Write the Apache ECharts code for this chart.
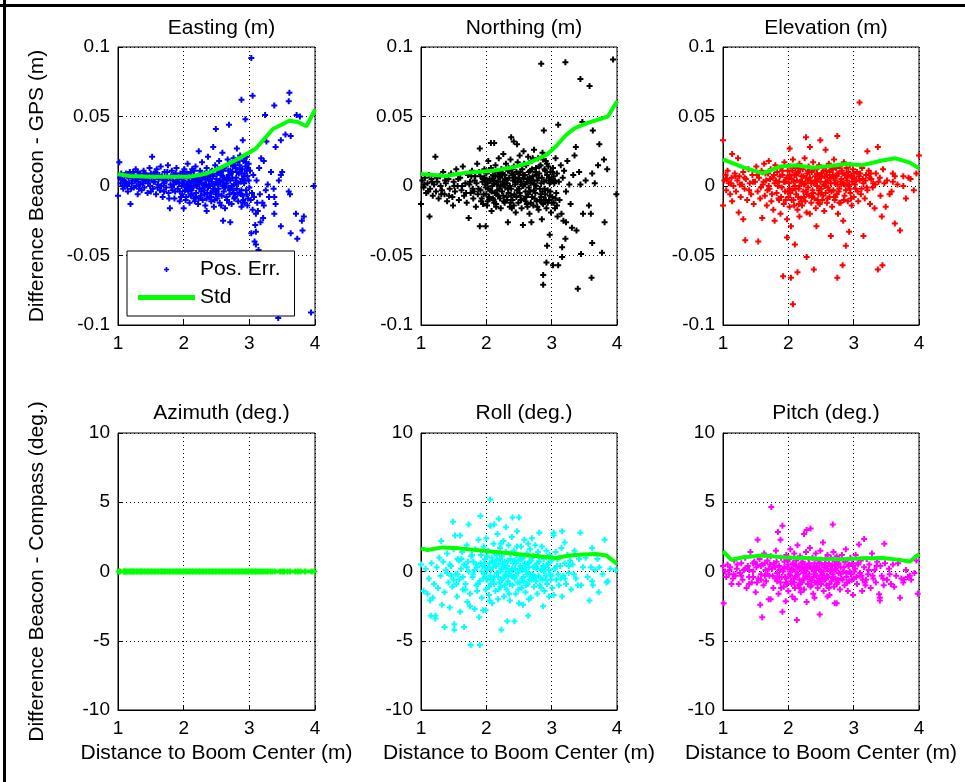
<!DOCTYPE html>
<html>
<head>
<meta charset="utf-8">
<script src="https://cdn.jsdelivr.net/npm/echarts@6/dist/echarts.min.js"></script>
<style>
html,body{margin:0;padding:0;background:#fff;}
#chart{width:965px;height:782px;}
</style>
</head>
<body>
<div id="chart"></div>
<script>
// ---------- tick labels / titles ----------
const panelTitles = ['Easting (m)', 'Northing (m)', 'Elevation (m)', 'Azimuth (deg.)', 'Roll (deg.)', 'Pitch (deg.)'];
const xAxisName = 'Distance to Boom Center (m)';
const yNameTop = 'Difference Beacon - GPS (m)';
const yNameBottom = 'Difference Beacon - Compass (deg.)';

// ---------- Easting ----------
const eastingPts = [
[1.02,0.017],[1.00,-0.007],[1.04,0.002],[1.06,0.005],[1.08,-0.002],[1.10,0.008],[1.11,0.003],[1.13,0.001],[1.15,-0.004],[1.16,0.006],[1.18,0.010],[1.19,-0.013],[1.21,0.002],[1.22,0.004],[1.24,-0.001],[1.25,0.007],[1.27,0.012],[1.28,0.000],[1.30,-0.006],[1.31,0.003],[1.33,0.009],[1.34,0.001],[1.36,-0.003],[1.37,0.005],[1.39,0.011],[1.40,-0.001],[1.42,0.004],[1.43,0.008],[1.45,-0.005],[1.46,0.002],[1.48,0.013],[1.49,0.000],[1.52,0.021],[1.51,0.006],[1.53,-0.002],[1.55,0.009],[1.56,0.003],[1.58,-0.006],[1.59,0.012],[1.61,0.001],[1.62,0.005],[1.64,-0.003],[1.65,0.014],[1.67,0.007],[1.68,-0.008],[1.70,0.002],[1.71,0.010],[1.73,-0.001],[1.74,0.004],[1.76,0.015],[1.77,-0.005],[1.79,-0.016],[1.79,0.006],[1.80,0.001],[1.82,0.011],[1.83,-0.003],[1.85,0.008],[1.86,-0.009],[1.88,0.003],[1.89,0.013],[1.91,-0.002],[1.92,0.005],[1.94,-0.011],[1.95,0.009],[1.97,0.000],[1.98,-0.006],[2.00,0.004],[2.00,-0.016],[2.01,0.012],[2.02,-0.003],[2.03,0.007],[2.04,-0.008],[2.05,0.001],[2.06,0.016],[2.07,-0.004],[2.08,0.006],[2.09,-0.012],[2.10,0.002],[2.11,0.010],[2.12,-0.006],[2.13,0.004],[2.14,-0.001],[2.15,0.008],[2.16,-0.009],[2.17,0.003],[2.18,0.014],[2.19,-0.005],[2.20,0.000],[2.21,0.007],[2.22,-0.013],[2.23,0.025],[2.23,0.005],[2.24,-0.002],[2.25,0.011],[2.26,-0.007],[2.27,0.002],[2.28,0.017],[2.29,-0.010],[2.30,0.006],[2.31,-0.003],[2.32,0.009],[2.33,-0.014],[2.34,0.001],[2.35,-0.018],[2.35,0.013],[2.36,-0.005],[2.37,0.021],[2.38,0.004],[2.39,-0.008],[2.40,0.000],[2.41,0.010],[2.42,-0.011],[2.43,0.003],[2.44,-0.004],[2.45,0.028],[2.45,0.007],[2.46,-0.015],[2.47,0.001],[2.48,0.015],[2.49,0.041],[2.49,-0.006],[2.50,0.005],[2.51,-0.009],[2.52,0.012],[2.53,-0.002],[2.54,0.018],[2.55,-0.012],[2.56,0.003],[2.57,0.008],[2.58,-0.007],[2.59,0.024],[2.59,0.000],[2.60,-0.025],[2.60,0.011],[2.61,-0.004],[2.62,0.006],[2.63,-0.016],[2.64,0.014],[2.65,0.002],[2.66,-0.010],[2.67,0.019],[2.68,-0.001],[2.69,0.044],[2.69,0.008],[2.70,-0.006],[2.71,-0.026],[2.71,0.004],[2.72,0.016],[2.73,-0.013],[2.74,0.010],[2.75,-0.003],[2.76,0.020],[2.77,0.001],[2.78,-0.008],[2.79,0.013],[2.80,0.006],[2.81,0.027],[2.81,-0.002],[2.82,0.017],[2.83,-0.011],[2.84,0.009],[2.85,-0.005],[2.86,0.022],[2.87,0.003],[2.88,0.062],[2.88,-0.015],[2.89,0.012],[2.90,0.033],[2.90,-0.007],[2.91,0.018],[2.92,0.002],[2.93,-0.012],[2.94,0.048],[2.94,0.014],[2.95,-0.003],[2.96,0.021],[2.97,0.007],[2.98,-0.009],[2.99,0.016],[3.00,-0.001],[3.01,0.011],[3.03,0.092],[3.03,-0.034],[3.05,0.065],[3.04,-0.005],[3.06,0.008],[3.08,-0.040],[3.09,-0.028],[3.10,-0.033],[3.10,-0.020],[3.10,-0.042],[3.11,0.004],[3.12,-0.012],[3.14,-0.046],[3.15,0.013],[3.16,-0.006],[3.18,0.020],[3.21,-0.023],[3.22,0.018],[3.22,-0.014],[3.24,0.051],[3.25,-0.003],[3.26,0.032],[3.28,0.001],[3.30,-0.008],[3.33,0.010],[3.37,-0.002],[3.38,0.058],[3.38,-0.008],[3.38,-0.020],[3.40,0.028],[3.40,-0.013],[3.44,-0.095],[3.45,0.004],[3.48,0.033],[3.48,-0.029],[3.48,0.008],[3.50,0.010],[3.55,0.037],[3.60,0.061],[3.60,-0.004],[3.61,0.067],[3.62,-0.006],[3.63,0.036],[3.63,-0.034],[3.71,-0.020],[3.72,0.051],[3.73,-0.038],[3.77,0.050],[3.80,-0.025],[3.81,-0.032],[3.83,-0.022],[3.94,-0.091],[3.98,0.000],
[1.82,-0.001],[1.84,0.004],[1.87,-0.004],[1.90,0.007],[1.93,0.002],[1.96,-0.008],[1.99,0.010],[2.01,0.001],[2.03,-0.010],[2.05,0.009],[2.07,0.003],[2.09,-0.002],[2.11,-0.007],[2.13,0.012],[2.15,0.000],[2.17,-0.011],[2.19,0.006],[2.21,0.001],[2.23,-0.009],[2.25,0.004],[2.27,-0.004],[2.29,0.008],[2.31,0.001],[2.33,0.005],[2.35,-0.009],[2.37,-0.001],[2.39,0.007],[2.41,-0.005],[2.43,0.011],[2.45,-0.002],[2.47,-0.010],[2.49,0.002],[2.51,0.009],[2.53,-0.006],[2.55,0.004],[2.57,-0.014],[2.59,0.007],[2.61,0.013],[2.63,-0.001],[2.65,-0.008],[2.67,0.005],[2.69,-0.012],[2.71,0.011],[2.73,0.000],[2.75,0.014],[2.77,-0.009],[2.79,0.004],[2.81,0.010],[2.83,0.002],[2.85,0.015],[2.87,-0.006],[2.89,0.005],[2.91,-0.010],[2.93,0.009],[2.95,0.017],[2.97,-0.014],[2.99,0.004],[2.96,0.011],[2.92,0.020],[2.88,0.009],[1.72,0.005],[1.66,0.000],[1.60,0.008],[1.54,0.003],[1.50,-0.004],[1.44,0.006],[1.38,0.002],[1.32,-0.002],[1.26,0.004],[1.20,0.007],[1.14,0.000],[1.09,0.004],[1.05,0.009],[3.02,-0.010],[3.05,-0.017],[3.07,-0.008],[3.13,-0.018],[3.17,-0.026],[3.20,-0.012],
[1.03,0.006],[1.07,0.000],[1.12,0.009],[1.17,0.002],[1.23,0.010],[1.29,0.005],[1.35,0.006],[1.41,0.009],[1.47,0.004],[1.57,0.010],[1.63,0.008],[1.69,0.004],[1.75,0.010],[1.81,0.007],[1.88,0.009],[1.91,0.003],[1.97,0.006],[2.02,0.009],[2.08,0.001],[2.14,0.006],[2.20,0.004],[2.26,0.009],[2.32,-0.006],[2.38,0.000],[2.44,0.008],[2.50,-0.004],[2.56,0.010],[2.62,0.001],[2.68,0.011],[2.74,0.006],[2.80,0.002],[2.86,0.012],[2.92,0.007],[2.98,0.013],[2.84,0.019],[2.78,0.015],[2.72,0.009],[1.85,0.001],[1.94,-0.004],[2.04,-0.001],[2.12,-0.003],[2.18,-0.008],[2.24,0.003],[2.30,-0.001],[2.36,0.008],[2.42,-0.008],[2.48,-0.003],[2.54,0.003],[2.60,0.004],[2.66,0.005],[2.76,-0.005],[2.82,-0.006],[2.90,-0.012],[2.96,-0.006],[1.60,-0.001],[1.70,-0.004],[1.50,0.009],[1.40,0.005],[1.30,0.010],[1.20,-0.002],[1.10,0.000],[1.78,-0.009],[1.98,0.002],[2.16,0.011],[2.40,0.005],[2.58,0.012],[2.70,-0.003],[2.88,-0.003],[2.94,0.004],[2.52,0.001]
];
const eastingStd = [[1.00,0.0084],[1.18,0.0072],[1.48,0.0067],[1.79,0.0067],[2.09,0.0067],[2.35,0.009],[2.60,0.014],[2.85,0.020],[3.10,0.027],[3.36,0.041],[3.61,0.047],[3.74,0.046],[3.87,0.043],[4.00,0.055]];

// ---------- Northing ----------
const northingPts = [
[1.00,-0.013],[1.02,0.004],[1.04,-0.001],[1.06,0.006],[1.08,-0.005],[1.10,0.002],[1.12,0.008],[1.13,-0.022],[1.14,-0.002],[1.16,0.005],[1.18,-0.007],[1.20,0.001],[1.22,0.021],[1.23,-0.004],[1.25,0.003],[1.27,-0.009],[1.29,0.007],[1.30,0.000],[1.32,-0.003],[1.34,0.010],[1.36,-0.006],[1.38,0.002],[1.40,-0.011],[1.42,0.005],[1.44,-0.002],[1.46,0.009],[1.48,-0.008],[1.49,-0.014],[1.50,0.003],[1.52,-0.004],[1.54,0.012],[1.56,0.000],[1.58,-0.010],[1.60,0.006],[1.62,-0.003],[1.64,0.014],[1.66,-0.007],[1.68,0.002],[1.70,-0.012],[1.72,0.008],[1.73,-0.023],[1.74,0.001],[1.76,-0.005],[1.78,0.011],[1.80,-0.009],[1.82,0.004],[1.84,-0.015],[1.86,0.016],[1.88,-0.002],[1.90,0.027],[1.90,-0.029],[1.91,0.007],[1.92,-0.011],[1.94,0.003],[1.96,-0.006],[1.97,0.012],[1.99,-0.029],[1.99,-0.001],[2.00,0.009],[2.01,-0.014],[2.02,0.002],[2.03,0.018],[2.04,-0.008],[2.05,0.005],[2.06,-0.003],[2.07,0.031],[2.07,0.013],[2.08,-0.018],[2.09,0.000],[2.10,0.008],[2.11,-0.010],[2.12,0.031],[2.12,0.004],[2.13,-0.005],[2.14,0.015],[2.15,-0.013],[2.16,0.001],[2.17,0.010],[2.18,-0.007],[2.19,0.020],[2.20,-0.002],[2.21,0.006],[2.22,-0.016],[2.23,0.012],[2.24,-0.004],[2.25,0.003],[2.26,0.023],[2.27,-0.011],[2.28,0.008],[2.29,-0.001],[2.30,0.016],[2.31,-0.008],[2.32,0.002],[2.33,-0.026],[2.33,0.011],[2.34,-0.005],[2.35,0.006],[2.36,-0.015],[2.37,0.019],[2.38,0.035],[2.38,-0.002],[2.39,0.009],[2.40,-0.010],[2.41,0.004],[2.42,0.032],[2.42,0.014],[2.43,-0.006],[2.44,0.001],[2.45,-0.019],[2.46,0.010],[2.47,0.030],[2.47,-0.003],[2.48,0.017],[2.49,-0.012],[2.50,0.006],[2.51,0.022],[2.52,-0.007],[2.53,0.003],[2.54,-0.016],[2.55,0.012],[2.56,-0.028],[2.56,0.000],[2.57,0.025],[2.58,-0.009],[2.59,0.008],[2.60,-0.004],[2.61,0.015],[2.62,-0.013],[2.63,0.005],[2.64,0.021],[2.65,-0.001],[2.66,-0.020],[2.67,0.011],[2.68,0.002],[2.69,-0.026],[2.69,0.018],[2.70,-0.008],[2.71,0.007],[2.72,-0.014],[2.73,0.026],[2.74,0.001],[2.75,-0.005],[2.76,0.013],[2.77,-0.011],[2.78,0.004],[2.79,0.020],[2.80,-0.017],[2.81,0.009],[2.82,-0.002],[2.83,0.015],[2.84,0.088],[2.84,-0.008],[2.85,-0.024],[2.85,0.006],[2.86,0.024],[2.87,-0.064],[2.87,-0.071],[2.87,-0.013],[2.88,0.040],[2.88,0.003],[2.89,0.012],[2.90,-0.006],[2.91,0.018],[2.92,-0.055],[2.92,-0.016],[2.93,-0.043],[2.93,0.008],[2.94,-0.003],[2.95,0.014],[2.96,-0.010],[2.97,-0.035],[2.97,0.002],[2.98,0.010],[2.99,-0.019],[3.00,0.005],[3.01,-0.008],[3.02,-0.057],[3.02,0.013],[3.03,-0.012],[3.04,0.002],[3.05,-0.016],[3.06,0.020],[3.07,-0.005],[3.08,0.009],[3.09,-0.022],[3.10,0.044],[3.10,-0.057],[3.11,0.003],[3.12,-0.010],[3.14,0.015],[3.15,-0.020],[3.16,-0.044],[3.16,-0.051],[3.17,0.006],[3.18,-0.025],[3.19,0.011],[3.21,0.089],[3.21,-0.038],[3.22,-0.026],[3.22,-0.004],[3.24,0.018],[3.27,0.001],[3.29,-0.013],[3.31,-0.030],[3.33,0.008],[3.35,0.022],[3.37,0.028],[3.38,-0.032],[3.40,-0.074],[3.42,0.010],[3.44,0.077],[3.44,0.001],[3.45,-0.049],[3.47,0.046],[3.48,-0.020],[3.52,0.004],[3.57,-0.014],[3.58,0.072],[3.60,-0.020],[3.61,-0.066],[3.62,0.009],[3.62,-0.041],[3.63,0.040],[3.66,0.002],[3.71,0.015],[3.73,0.030],[3.77,-0.048],[3.80,0.019],[3.81,-0.026],[3.85,0.012],[3.94,0.091],[3.99,-0.006],
[1.75,0.003],[1.79,-0.002],[1.83,0.007],[1.87,-0.006],[1.89,0.010],[1.93,-0.009],[1.95,0.005],[1.98,0.001],[2.00,-0.006],[2.02,-0.011],[2.04,0.011],[2.06,0.004],[2.08,-0.004],[2.10,-0.009],[2.12,-0.012],[2.14,0.007],[2.16,-0.006],[2.18,0.003],[2.20,0.010],[2.22,0.000],[2.24,0.008],[2.26,-0.007],[2.28,-0.012],[2.30,0.004],[2.32,-0.010],[2.34,0.013],[2.36,0.000],[2.38,-0.007],[2.40,0.012],[2.42,-0.014],[2.44,0.006],[2.46,-0.008],[2.48,0.003],[2.50,-0.002],[2.52,0.010],[2.54,0.001],[2.56,0.008],[2.58,0.016],[2.60,-0.011],[2.62,0.003],[2.64,-0.006],[2.66,0.006],[2.68,-0.012],[2.70,0.012],[2.72,0.004],[2.74,-0.009],[2.76,0.000],[2.78,-0.015],[2.80,0.006],[2.82,-0.010],[2.84,0.002],[2.86,-0.004],[2.88,-0.010],[2.90,0.011],[2.92,0.004],[2.94,-0.012],[2.96,0.006],[2.98,-0.004],[3.00,-0.012],[3.03,0.007],[3.06,-0.009],[3.08,-0.014],
[1.05,0.001],[1.11,-0.004],[1.17,0.003],[1.24,0.006],[1.31,-0.006],[1.37,0.004],[1.43,-0.007],[1.51,0.000],[1.57,0.005],[1.63,0.000],[1.69,-0.005],[1.77,0.007],[1.81,-0.004],[1.85,0.002],[1.91,-0.003],[1.97,0.006],[2.01,0.004],[2.05,-0.009],[2.09,0.005],[2.13,0.010],[2.17,-0.003],[2.21,-0.009],[2.25,0.009],[2.29,0.005],[2.33,-0.002],[2.37,-0.012],[2.41,0.008],[2.45,0.003],[2.49,0.009],[2.53,-0.010],[2.57,0.005],[2.61,-0.008],[2.65,0.010],[2.69,0.004],[2.73,-0.003],[2.77,0.008],[2.81,0.014],[2.85,-0.012],[2.89,-0.002],[2.93,0.016],[2.97,-0.007],[3.01,0.010],[3.05,0.004],[2.03,-0.002],[2.11,0.002],[2.19,0.007],[2.27,0.001],[2.35,0.011],[2.43,0.006],[2.51,-0.005],[2.59,0.001],[2.67,-0.004],[2.75,0.010],[2.83,-0.006],[2.91,-0.010],[2.99,0.003],[1.95,-0.013],[2.15,-0.015],[2.39,-0.016],[2.63,-0.015],[2.87,0.019],[2.71,0.020]
];
const northingStd = [[1.00,0.0086],[1.38,0.0072],[1.69,0.0096],[2.10,0.011],[2.41,0.0134],[2.66,0.0168],[2.92,0.0223],[3.07,0.0288],[3.22,0.0367],[3.35,0.0415],[3.53,0.045],[3.86,0.050],[4.00,0.061]];

// ---------- Elevation ----------
const elevationPts = [
[1.00,0.033],[1.00,-0.014],[1.02,0.004],[1.04,0.008],[1.05,-0.003],[1.07,0.011],[1.09,0.002],[1.11,-0.006],[1.13,0.006],[1.14,0.023],[1.14,-0.011],[1.16,0.000],[1.18,0.009],[1.20,-0.004],[1.22,0.004],[1.23,0.020],[1.24,-0.019],[1.25,0.007],[1.27,-0.008],[1.29,0.001],[1.31,-0.024],[1.31,0.010],[1.33,-0.002],[1.34,-0.039],[1.35,0.005],[1.37,-0.010],[1.39,0.012],[1.41,0.002],[1.43,-0.006],[1.45,0.008],[1.47,-0.013],[1.49,0.003],[1.51,0.014],[1.53,-0.004],[1.54,-0.040],[1.55,0.006],[1.57,-0.009],[1.59,0.011],[1.60,-0.023],[1.61,0.001],[1.63,0.016],[1.64,-0.007],[1.66,0.004],[1.67,-0.014],[1.69,0.009],[1.70,0.018],[1.71,-0.002],[1.73,0.012],[1.74,-0.011],[1.76,0.006],[1.77,-0.017],[1.79,0.002],[1.79,-0.025],[1.80,0.015],[1.82,-0.005],[1.83,0.010],[1.85,-0.009],[1.86,0.003],[1.88,-0.020],[1.88,0.013],[1.90,-0.001],[1.91,0.008],[1.92,-0.065],[1.93,-0.013],[1.94,0.017],[1.95,-0.004],[1.97,0.006],[1.98,-0.037],[1.98,-0.024],[1.99,0.011],[2.00,-0.008],[2.01,0.002],[2.02,0.027],[2.02,-0.015],[2.03,0.014],[2.04,-0.066],[2.04,-0.029],[2.05,0.005],[2.06,-0.003],[2.07,-0.085],[2.07,0.019],[2.08,-0.010],[2.09,0.008],[2.10,-0.042],[2.10,0.000],[2.11,0.013],[2.12,-0.006],[2.13,0.004],[2.14,-0.062],[2.14,-0.017],[2.15,0.010],[2.16,-0.002],[2.17,-0.022],[2.17,0.016],[2.18,0.003],[2.19,-0.009],[2.20,0.007],[2.21,-0.014],[2.22,0.012],[2.23,-0.004],[2.24,0.001],[2.25,0.020],[2.26,-0.011],[2.27,0.035],[2.27,0.006],[2.28,-0.051],[2.28,-0.019],[2.29,0.009],[2.30,-0.001],[2.31,0.014],[2.32,-0.007],[2.33,0.028],[2.33,-0.020],[2.34,0.004],[2.35,-0.012],[2.36,0.010],[2.37,-0.003],[2.38,0.017],[2.39,-0.060],[2.39,0.002],[2.40,-0.009],[2.41,0.007],[2.42,-0.016],[2.43,-0.029],[2.43,0.012],[2.44,0.000],[2.45,0.005],[2.46,-0.006],[2.47,0.015],[2.48,-0.013],[2.49,0.033],[2.49,0.003],[2.50,-0.002],[2.51,0.009],[2.52,-0.010],[2.53,0.013],[2.54,0.001],[2.55,-0.018],[2.56,0.007],[2.57,0.026],[2.57,-0.005],[2.58,0.011],[2.59,-0.012],[2.60,0.004],[2.61,-0.001],[2.62,0.016],[2.63,-0.008],[2.64,0.006],[2.65,-0.036],[2.65,0.002],[2.66,0.012],[2.67,-0.015],[2.68,0.008],[2.69,-0.003],[2.70,0.019],[2.71,-0.010],[2.72,0.004],[2.73,0.013],[2.74,-0.006],[2.75,0.036],[2.75,-0.066],[2.75,0.001],[2.76,-0.020],[2.77,0.009],[2.78,-0.002],[2.79,0.014],[2.80,-0.012],[2.81,0.005],[2.82,0.011],[2.83,-0.057],[2.84,-0.025],[2.84,0.002],[2.85,0.017],[2.86,-0.007],[2.87,0.008],[2.88,-0.043],[2.88,-0.003],[2.89,0.013],[2.90,0.004],[2.91,-0.011],[2.92,0.010],[2.93,-0.033],[2.93,0.001],[2.94,0.015],[2.95,-0.005],[2.96,0.007],[2.97,-0.014],[2.98,0.003],[2.99,0.012],[3.00,-0.008],[3.01,0.006],[3.03,-0.002],[3.05,0.010],[3.07,-0.011],[3.09,0.060],[3.09,0.004],[3.11,-0.006],[3.13,0.013],[3.15,-0.036],[3.15,0.002],[3.17,-0.009],[3.19,0.008],[3.21,0.025],[3.21,-0.003],[3.23,0.011],[3.25,-0.013],[3.27,0.005],[3.29,-0.001],[3.32,-0.016],[3.34,0.009],[3.37,0.028],[3.37,-0.060],[3.38,0.003],[3.41,-0.007],[3.43,-0.022],[3.44,-0.057],[3.45,0.012],[3.49,-0.015],[3.51,0.004],[3.55,-0.006],[3.58,-0.004],[3.60,0.003],[3.60,0.009],[3.63,-0.027],[3.63,0.007],[3.67,0.001],[3.71,-0.032],[3.76,0.000],[3.76,0.007],[3.80,-0.009],[3.84,0.006],[3.87,0.005],[3.92,-0.003],[3.96,0.009],[4.00,0.022],
[1.62,0.003],[1.68,-0.003],[1.72,0.005],[1.78,0.008],[1.84,0.000],[1.87,0.007],[1.89,-0.008],[1.93,0.003],[1.96,-0.010],[2.00,0.006],[2.03,-0.005],[2.06,0.011],[2.09,-0.014],[2.12,0.008],[2.15,-0.008],[2.18,0.013],[2.21,0.003],[2.24,-0.008],[2.27,-0.004],[2.30,0.011],[2.33,0.006],[2.36,-0.008],[2.39,0.012],[2.42,0.004],[2.45,-0.010],[2.48,0.008],[2.51,-0.005],[2.54,0.011],[2.57,0.002],[2.60,-0.009],[2.63,0.010],[2.66,-0.004],[2.69,0.006],[2.72,-0.008],[2.75,0.009],[2.78,-0.012],[2.81,0.001],[2.85,-0.010],[2.89,0.006],[2.92,0.000],[2.96,-0.009],[3.00,0.009],[3.04,0.004],[3.08,0.007],[3.12,-0.002],[3.18,0.004],[3.24,0.006],[3.30,0.002],
[1.06,0.005],[1.12,0.002],[1.19,0.007],[1.26,0.001],[1.33,0.006],[1.40,-0.003],[1.46,0.003],[1.52,0.008],[1.58,-0.001],[1.65,0.009],[1.70,0.000],[1.75,-0.006],[1.81,0.004],[1.86,-0.010],[1.91,0.011],[1.95,0.003],[1.99,-0.004],[2.02,0.008],[2.05,-0.010],[2.08,0.003],[2.11,-0.002],[2.14,0.009],[2.17,0.000],[2.20,-0.011],[2.23,0.007],[2.26,0.002],[2.29,-0.006],[2.32,0.010],[2.35,0.002],[2.38,-0.005],[2.41,0.003],[2.44,0.009],[2.47,-0.003],[2.50,0.006],[2.53,-0.007],[2.56,0.000],[2.59,0.008],[2.62,-0.003],[2.65,0.006],[2.68,0.012],[2.71,0.002],[2.74,0.007],[2.77,-0.004],[2.80,0.003],[2.83,0.009],[2.86,0.001],[2.90,0.008],[2.94,-0.002],[2.98,0.006],[3.02,0.001],[3.06,-0.004],[3.10,0.009],[3.14,0.005],[3.20,-0.001],[3.26,0.009],[3.33,0.001],[3.40,0.006],[3.47,0.002],[2.16,-0.013],[2.46,-0.012],[2.70,-0.008],[2.02,-0.002],[2.30,0.004],[2.58,0.003]
];
const elevationStd = [[1.00,0.0192],[1.31,0.0134],[1.61,0.0091],[1.87,0.014],[2.12,0.015],[2.38,0.0132],[2.63,0.0144],[2.89,0.0159],[3.14,0.015],[3.40,0.018],[3.63,0.020],[3.86,0.0168],[4.00,0.0127]];

// ---------- Azimuth ----------
const azimuthPts = [
[1.01,0],[1.03,0],[1.09,0],[1.10,0],[1.12,0],[1.14,0],[1.17,0],[1.19,0],[1.21,0],[1.23,0],[1.25,0],[1.28,0],[1.30,0],[1.33,0],[1.35,0],[1.37,0],[1.40,0],[1.42,0],[1.45,0],[1.47,0],[1.50,0],[1.52,0],[1.55,0],[1.57,0],[1.60,0],[1.62,0],[1.65,0],[1.67,0],[1.70,0],[1.72,0],[1.75,0],[1.78,0],[1.80,0],[1.83,0],[1.85,0],[1.88,0],[1.90,0],[1.93,0],[1.95,0],[1.98,0],[2.00,0],[2.03,0],[2.05,0],[2.08,0],[2.10,0],[2.13,0],[2.15,0],[2.18,0],[2.20,0],[2.23,0],[2.25,0],[2.28,0],[2.30,0],[2.33,0],[2.35,0],[2.38,0],[2.40,0],[2.43,0],[2.45,0],[2.48,0],[2.50,0],[2.53,0],[2.55,0],[2.58,0],[2.60,0],[2.63,0],[2.65,0],[2.68,0],[2.70,0],[2.73,0],[2.75,0],[2.78,0],[2.80,0],[2.83,0],[2.85,0],[2.88,0],[2.90,0],[2.93,0],[2.95,0],[2.98,0],[3.00,0],[3.03,0],[3.05,0],[3.08,0],[3.10,0],[3.13,0],[3.16,0],[3.19,0],[3.22,0],[3.25,0],[3.28,0],[3.32,0],[3.35,0],[3.39,0],[3.47,0],[3.50,0],[3.53,0],[3.58,0],[3.62,0],[3.70,0],[3.74,0],[3.78,0],[3.85,0],[3.95,0],[3.99,0]
];
const azimuthStd = [[1.00,0],[1.50,0],[2.00,0],[2.50,0],[3.00,0],[3.50,0],[4.00,0]];

// ---------- Roll ----------
const rollPts = [
[0.99,-0.8],[1.00,0.5],[1.04,-1.4],[1.07,0.2],[1.10,-1.6],[1.12,-0.5],[1.14,-2.1],[1.15,-3.2],[1.16,0.6],[1.18,-1.9],[1.20,-0.9],[1.22,-3.4],[1.22,-3.2],[1.24,0.3],[1.26,-1.2],[1.28,1.0],[1.30,-0.3],[1.31,2.2],[1.32,-2.4],[1.34,0.7],[1.36,-4.0],[1.36,-1.5],[1.38,0.1],[1.40,1.3],[1.42,-0.8],[1.44,-2.6],[1.46,0.4],[1.48,-1.1],[1.49,3.6],[1.50,1.6],[1.51,-4.2],[1.51,-3.8],[1.52,2.6],[1.53,-0.2],[1.55,-1.8],[1.56,0.9],[1.58,-0.6],[1.60,2.6],[1.60,-2.9],[1.61,0.2],[1.63,1.4],[1.64,-1.3],[1.66,-4.0],[1.66,0.5],[1.68,-0.9],[1.70,1.9],[1.71,-2.2],[1.73,3.4],[1.73,0.0],[1.75,-1.6],[1.76,-5.3],[1.77,1.1],[1.79,-0.4],[1.80,0.7],[1.82,-2.7],[1.83,1.6],[1.85,-1.0],[1.86,0.3],[1.88,2.3],[1.89,-3.3],[1.90,-5.3],[1.90,-0.7],[1.91,4.0],[1.92,1.2],[1.93,-1.9],[1.94,0.4],[1.95,-2.8],[1.96,1.8],[1.97,-0.2],[1.98,0.9],[1.99,-2.8],[1.99,-1.3],[2.00,2.4],[2.01,0.1],[2.02,-0.6],[2.03,1.5],[2.04,-1.7],[2.05,0.6],[2.06,5.2],[2.06,3.3],[2.07,-0.9],[2.08,1.0],[2.09,-2.3],[2.10,0.3],[2.11,2.0],[2.12,3.4],[2.12,-0.4],[2.13,1.3],[2.14,-1.4],[2.15,0.8],[2.16,-0.1],[2.17,2.7],[2.18,-2.0],[2.19,3.8],[2.19,0.5],[2.20,-0.8],[2.21,1.7],[2.22,-1.1],[2.23,-4.2],[2.23,0.2],[2.24,1.1],[2.25,-0.5],[2.26,2.2],[2.27,-1.8],[2.28,0.7],[2.29,-0.2],[2.30,3.2],[2.30,1.4],[2.31,-1.3],[2.32,-3.6],[2.32,0.4],[2.33,-0.7],[2.34,1.9],[2.35,0.0],[2.36,-2.1],[2.37,0.9],[2.38,-0.3],[2.39,2.5],[2.40,3.9],[2.40,-1.0],[2.41,0.6],[2.42,1.5],[2.43,-3.6],[2.43,-0.5],[2.44,0.2],[2.45,-1.6],[2.46,1.2],[2.47,2.9],[2.48,-0.1],[2.49,0.8],[2.50,3.9],[2.50,-2.3],[2.51,-0.8],[2.52,0.4],[2.53,1.8],[2.54,-1.2],[2.55,0.1],[2.56,-2.4],[2.56,1.0],[2.57,-0.4],[2.58,2.3],[2.59,0.6],[2.60,-1.5],[2.61,0.0],[2.62,1.3],[2.63,-0.9],[2.64,-3.2],[2.64,2.0],[2.65,0.3],[2.66,-0.6],[2.67,1.6],[2.68,-1.9],[2.69,0.8],[2.70,2.4],[2.71,-0.2],[2.72,1.1],[2.73,-1.1],[2.74,0.4],[2.75,1.9],[2.76,-0.7],[2.77,0.2],[2.78,-1.6],[2.79,1.4],[2.80,-0.3],[2.81,2.8],[2.81,0.7],[2.82,-1.0],[2.84,0.1],[2.85,1.8],[2.86,-0.6],[2.87,-2.5],[2.88,0.9],[2.89,-1.4],[2.90,0.3],[2.92,1.5],[2.93,-0.9],[2.94,0.5],[2.96,-1.8],[2.97,1.2],[2.98,-0.2],[3.00,0.8],[3.01,-1.2],[3.03,2.8],[3.03,2.6],[3.03,-1.7],[3.04,0.2],[3.06,1.4],[3.07,-0.6],[3.09,0.9],[3.11,-1.0],[3.13,0.4],[3.15,1.7],[3.16,2.9],[3.16,-1.8],[3.18,-0.3],[3.20,2.1],[3.20,0.6],[3.22,-0.9],[3.24,1.2],[3.26,-0.1],[3.28,0.8],[3.30,-1.3],[3.32,0.5],[3.35,1.5],[3.37,-0.5],[3.40,-1.0],[3.42,0.9],[3.44,2.8],[3.45,-1.0],[3.48,0.3],[3.52,1.0],[3.55,-0.4],[3.58,-2.1],[3.60,0.3],[3.62,1.7],[3.62,-0.7],[3.63,-1.0],[3.66,0.1],[3.70,0.9],[3.72,-1.5],[3.73,0.3],[3.78,-0.2],[3.81,2.3],[3.84,-0.8],[3.86,-0.7],[3.90,0.2],[3.98,0.1],
[1.80,-0.2],[1.84,0.5],[1.87,-0.9],[1.93,0.0],[1.96,0.6],[2.00,-0.5],[2.03,0.3],[2.06,-0.3],[2.09,0.7],[2.12,-0.9],[2.15,0.4],[2.18,-0.4],[2.21,0.9],[2.24,-0.6],[2.27,0.3],[2.30,-0.3],[2.33,0.8],[2.36,-0.9],[2.39,0.2],[2.42,-0.4],[2.45,0.6],[2.48,-0.8],[2.51,0.1],[2.54,0.9],[2.57,-0.7],[2.60,0.5],[2.63,-0.2],[2.66,0.7],[2.69,-0.6],[2.72,0.3],[2.75,-0.4],[2.78,0.6],[2.83,-0.5],[2.87,0.4],[2.91,-0.3],[2.95,0.6],[2.99,-0.6],[3.05,0.2],[3.10,-0.2],[3.14,-0.5],[1.70,0.3],[1.64,-0.4],[1.58,0.8],[1.54,-0.9],[1.46,-0.3],[1.40,-0.1],
[1.44,0.5],[1.50,-0.6],[1.56,-0.2],[1.62,0.9],[1.68,-1.3],[1.72,0.7],[1.78,1.2],[1.82,0.1],[1.86,-1.4],[1.91,0.6],[1.95,-0.5],[1.98,0.3],[2.01,1.1],[2.04,-1.1],[2.07,0.1],[2.10,-0.6],[2.13,0.5],[2.16,1.2],[2.19,-1.3],[2.22,0.0],[2.25,0.6],[2.28,-1.0],[2.31,0.2],[2.34,-0.3],[2.37,1.3],[2.40,0.1],[2.43,0.8],[2.46,-0.3],[2.49,-1.3],[2.52,1.1],[2.55,-0.5],[2.58,0.2],[2.61,-1.0],[2.64,0.6],[2.67,-0.2],[2.70,1.0],[2.73,-0.4],[2.76,0.3],[2.80,1.1],[2.84,-1.2],[2.88,0.0],[2.92,-0.6],[2.96,0.1],[3.00,-0.3],[3.08,0.4],[3.12,1.0],[3.20,-0.5],[3.26,0.4],[3.34,-0.2],[2.05,-2.1],[2.35,-1.6],[2.65,-2.0],[1.75,-2.5],[2.47,1.8],[2.22,2.0]
];
const rollStd = [[1.00,1.67],[1.10,1.55],[1.33,1.74],[1.59,1.67],[1.84,1.55],[2.10,1.43],[2.35,1.31],[2.61,1.19],[2.87,1.07],[3.07,0.98],[3.27,1.15],[3.48,1.22],[3.68,1.26],[3.84,1.15],[4.00,0.55]];

// ---------- Pitch ----------
const pitchPts = [
[1.00,0.4],[1.01,-2.3],[1.03,0.0],[1.05,-0.4],[1.07,0.5],[1.09,-0.2],[1.11,0.3],[1.13,-0.9],[1.15,-0.5],[1.17,0.8],[1.19,-0.3],[1.21,0.2],[1.24,-0.9],[1.26,-0.1],[1.28,0.6],[1.30,-0.6],[1.32,0.1],[1.34,1.0],[1.36,-1.2],[1.38,0.4],[1.40,-0.4],[1.42,1.4],[1.44,-0.8],[1.46,0.0],[1.48,0.7],[1.50,-1.5],[1.51,0.3],[1.53,2.3],[1.54,-0.5],[1.56,0.9],[1.57,-2.4],[1.58,-0.2],[1.60,-3.3],[1.60,0.5],[1.62,-1.0],[1.63,1.3],[1.65,0.1],[1.66,-0.7],[1.68,0.8],[1.70,-2.0],[1.71,-0.3],[1.73,-2.0],[1.73,1.1],[1.74,4.65],[1.75,0.2],[1.77,-1.2],[1.78,0.6],[1.80,-0.5],[1.81,1.5],[1.83,-0.1],[1.84,2.85],[1.85,-1.6],[1.86,0.4],[1.88,2.3],[1.88,-0.8],[1.89,1.0],[1.91,3.3],[1.91,-2.9],[1.92,0.0],[1.93,-1.1],[1.94,0.7],[1.95,-0.4],[1.96,-2.15],[1.97,1.2],[1.98,-0.9],[1.99,0.3],[2.00,-1.4],[2.01,0.9],[2.02,-0.2],[2.03,1.6],[2.04,-0.7],[2.05,0.2],[2.06,-1.8],[2.07,0.6],[2.08,-0.5],[2.09,1.3],[2.10,-1.2],[2.11,0.0],[2.12,0.8],[2.13,-3.5],[2.13,-0.3],[2.14,1.9],[2.15,-1.0],[2.16,0.4],[2.17,-0.6],[2.18,1.1],[2.19,-1.5],[2.20,0.1],[2.21,-0.8],[2.22,0.7],[2.23,-0.1],[2.24,2.7],[2.24,-1.3],[2.25,0.5],[2.26,-0.4],[2.27,1.4],[2.28,3.0],[2.28,-2.2],[2.29,0.2],[2.30,-0.9],[2.31,0.9],[2.32,-0.2],[2.33,1.7],[2.34,3.1],[2.34,-1.1],[2.35,0.3],[2.36,-0.6],[2.37,1.0],[2.38,-1.6],[2.39,0.0],[2.40,0.6],[2.41,-0.8],[2.42,1.3],[2.43,-0.3],[2.44,0.4],[2.45,-1.2],[2.46,0.8],[2.47,-0.5],[2.48,-3.1],[2.48,0.1],[2.49,1.5],[2.50,-0.9],[2.51,0.5],[2.52,-0.2],[2.53,2.1],[2.54,-1.4],[2.55,0.3],[2.56,-0.6],[2.57,0.9],[2.58,-1.0],[2.59,0.2],[2.60,1.2],[2.61,-0.4],[2.62,0.6],[2.63,-1.7],[2.64,0.0],[2.65,1.0],[2.66,-0.7],[2.67,0.4],[2.68,3.4],[2.68,-0.2],[2.69,1.4],[2.70,-1.1],[2.71,-2.3],[2.71,0.7],[2.72,-0.5],[2.73,0.2],[2.74,-2.3],[2.74,1.1],[2.75,-0.8],[2.76,0.5],[2.77,-0.1],[2.78,0.9],[2.79,-1.3],[2.80,0.3],[2.82,1.2],[2.83,-0.6],[2.84,0.0],[2.86,-1.0],[2.87,0.7],[2.88,1.6],[2.89,-0.4],[2.91,-1.4],[2.92,0.4],[2.93,-0.7],[2.95,1.0],[2.96,-0.2],[2.98,0.6],[2.99,-1.7],[3.00,-0.5],[3.02,0.2],[3.03,1.2],[3.05,-0.9],[3.07,0.5],[3.08,1.95],[3.09,-0.3],[3.11,0.8],[3.13,-1.4],[3.14,-0.6],[3.16,2.35],[3.16,0.3],[3.18,-1.0],[3.20,0.9],[3.22,-0.2],[3.24,0.5],[3.26,-1.2],[3.28,1.3],[3.30,-0.5],[3.32,0.1],[3.34,-0.8],[3.36,0.7],[3.39,-1.65],[3.40,-2.1],[3.40,-1.9],[3.41,0.4],[3.43,-0.3],[3.46,-1.0],[3.47,2.0],[3.48,0.6],[3.51,-0.6],[3.54,0.2],[3.57,-0.9],[3.60,0.5],[3.62,-1.1],[3.65,-0.3],[3.68,0.6],[3.71,-1.9],[3.73,-0.5],[3.76,-0.8],[3.77,-0.6],[3.80,0.1],[3.83,-0.4],[3.86,-0.3],[3.88,-0.6],[3.93,-0.1],[3.96,0.8],[3.98,-1.6],
[1.80,0.3],[1.83,-0.7],[1.87,0.1],[1.90,-0.4],[1.94,0.3],[1.97,-0.5],[2.00,0.5],[2.03,-0.3],[2.06,0.1],[2.09,-0.8],[2.12,0.4],[2.15,-0.2],[2.18,-0.9],[2.21,0.3],[2.24,-0.5],[2.27,0.0],[2.30,0.4],[2.33,-0.6],[2.36,0.2],[2.39,-0.4],[2.42,0.1],[2.45,-0.7],[2.48,0.6],[2.51,-0.3],[2.54,0.0],[2.57,-0.5],[2.60,0.4],[2.63,-0.9],[2.66,0.1],[2.69,-0.4],[2.72,0.5],[2.76,-0.6],[2.80,-0.2],[2.85,0.3],[2.90,-0.8],[2.94,0.0],[2.99,0.4],[3.04,-0.4],[3.10,-0.1],[3.19,-0.6],[1.70,0.2],[1.64,-0.3],[1.58,0.4],[1.52,-0.8],[1.46,0.6],[1.40,0.1],
[1.10,0.1],[1.16,-0.2],[1.22,0.5],[1.28,-0.3],[1.34,0.2],[1.40,-0.9],[1.46,-0.4],[1.52,0.5],[1.58,-0.6],[1.64,0.6],[1.68,-0.2],[1.72,0.5],[1.76,-0.3],[1.82,0.7],[1.86,-0.4],[1.89,-1.2],[1.93,0.2],[1.96,-0.8],[1.99,0.8],[2.02,0.0],[2.05,-0.9],[2.08,0.5],[2.11,-0.4],[2.14,0.3],[2.17,-1.2],[2.20,0.6],[2.23,-0.6],[2.26,0.2],[2.29,-0.4],[2.32,0.6],[2.35,-1.0],[2.38,0.3],[2.41,-0.2],[2.44,-0.8],[2.47,0.2],[2.50,0.0],[2.53,-0.6],[2.56,0.6],[2.59,-0.3],[2.62,-1.2],[2.65,0.4],[2.68,-0.5],[2.71,0.1],[2.74,-0.9],[2.77,0.6],[2.81,-0.5],[2.85,0.8],[2.89,-0.1],[2.93,0.5],[2.97,-0.6],[3.01,0.0],[3.06,0.6],[3.12,-0.3],[3.17,-0.8],[3.23,0.1],[3.29,-0.3],[3.35,0.4],[3.45,-0.5],[3.55,-0.2],[2.40,-1.9],[2.10,-2.0],[2.60,-1.8]
];
const pitchStd = [[1.00,1.46],[1.13,0.84],[1.31,1.03],[1.61,1.15],[1.92,1.03],[2.22,0.98],[2.53,0.91],[2.84,0.88],[3.14,0.95],[3.45,0.98],[3.70,0.84],[3.86,0.72],[4.00,1.26]];

// ---------- build ----------
const FONT = "'Liberation Sans', Arial, Helvetica, sans-serif";
const plusPath = 'path://M1,0H2V1H3V2H2V3H1V2H0V1H1Z';
const grids = [
  {left:118, top:47, width:197, height:278},
  {left:421, top:47, width:196, height:278},
  {left:723, top:47, width:196, height:278},
  {left:118, top:433, width:197, height:277},
  {left:421, top:433, width:196, height:277},
  {left:723, top:433, width:196, height:277}
];
const scatterSets = [eastingPts, northingPts, elevationPts, azimuthPts, rollPts, pitchPts];
const stdSets = [eastingStd, northingStd, elevationStd, azimuthStd, rollStd, pitchStd];
const colors = ['#0000ff', '#000000', '#ff0000', '#00ff00', '#00ffff', '#ff00ff'];
const scatterNames = ['Pos. Err.', 'north', 'elev', 'azim', 'roll', 'pitch'];
const stdNames = ['Std', 'stdN', 'stdE', 'stdA', 'stdR', 'stdP'];

const dotted = {show:true, lineStyle:{color:'#000', width:1, type:[1,3]}};
const option = {
  animation: false,
  backgroundColor: '#ffffff',
  textStyle: {fontFamily: FONT},
  grid: grids.map(g => Object.assign({show:true, borderColor:'#000', borderWidth:1, backgroundColor:'#fff'}, g)),
  title: panelTitles.map((t, i) => ({
    text: t,
    left: grids[i].left + grids[i].width / 2,
    top: i < 3 ? 13 : 398,
    textAlign: 'center',
    textStyle: {fontSize: 21, fontWeight: 'normal', color: '#000', fontFamily: FONT}
  })),
  xAxis: grids.map((g, i) => ({
    gridIndex: i, type: 'value', min: 1, max: 4, interval: 1,
    axisLine: {show:true, onZero:false, lineStyle:{color:'#000', width:1}},
    axisTick: {show:true, inside:true, length:5, lineStyle:{color:'#000'}},
    axisLabel: {color:'#000', fontSize:19, margin:9, fontFamily: FONT},
    splitLine: dotted,
    name: i >= 3 ? xAxisName : '',
    nameLocation: 'middle', nameGap: 33,
    nameTextStyle: {color:'#000', fontSize:21, fontFamily: FONT}
  })),
  yAxis: grids.map((g, i) => ({
    gridIndex: i, type: 'value',
    min: i < 3 ? -0.1 : -10, max: i < 3 ? 0.1 : 10, interval: i < 3 ? 0.05 : 5,
    axisLine: {show:true, onZero:false, lineStyle:{color:'#000', width:1}},
    axisTick: {show:true, inside:true, length:5, lineStyle:{color:'#000'}},
    axisLabel: {color:'#000', fontSize:19, margin:8, fontFamily: FONT},
    splitLine: dotted,
    name: i === 0 ? yNameTop : (i === 3 ? yNameBottom : ''),
    nameLocation: 'middle', nameGap: 70, nameRotate: 90,
    nameTextStyle: {color:'#000', fontSize:21, fontFamily: FONT}
  })),
  legend: {
    data: [{name:'Pos. Err.'}, {name:'Std', icon:'rect', itemStyle:{color:'#00ff00'}}],
    orient: 'vertical',
    left: 127, top: 251,
    itemWidth: 57, itemHeight: 5, itemGap: 7,
    padding: [8, 14, 8, 11],
    backgroundColor: '#ffffff',
    borderColor: '#000', borderWidth: 1, borderRadius: 0,
    selectedMode: false,
    textStyle: {color:'#000', fontSize:21, fontFamily: FONT}
  },
  graphic: [
    {type:'line', shape:{x1:0, y1:5.5, x2:965, y2:5.5}, style:{stroke:'#000', lineWidth:3}, silent:true},
    {type:'line', shape:{x1:4.5, y1:0, x2:4.5, y2:782}, style:{stroke:'#000', lineWidth:3}, silent:true}
  ],
  series: []
};
scatterSets.forEach((pts, i) => {
  option.series.push({
    name: scatterNames[i], type: 'scatter', xAxisIndex: i, yAxisIndex: i,
    data: pts, symbol: plusPath, symbolSize: 6,
    itemStyle: {color: colors[i], opacity: 1},
    emphasis: {disabled: true}, z: 2
  });
});
stdSets.forEach((pts, i) => {
  option.series.push({
    name: stdNames[i], type: 'line', xAxisIndex: i, yAxisIndex: i,
    data: pts, symbol: 'none', showSymbol: false,
    lineStyle: {color: '#00ff00', width: 4}, itemStyle: {color: '#00ff00'},
    emphasis: {disabled: true}, z: 3
  });
});
const chart = echarts.init(document.getElementById('chart'), null, {renderer: 'canvas'});
chart.setOption(option);
</script>
</body>
</html>
